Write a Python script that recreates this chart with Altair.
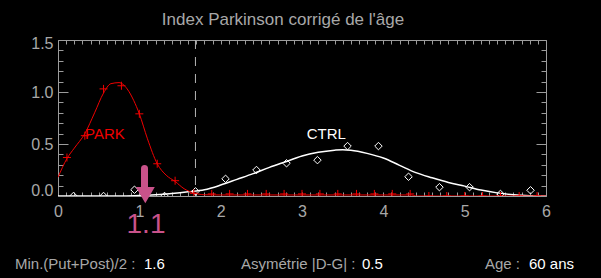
import altair as alt
import pandas as pd

# ---------------- data ----------------
TITLE = "Index Parkinson corrigé de l'âge"
X_LABEL_TICKS = [0, 1, 2, 3, 4, 5, 6]
Y_LABEL_TICKS = [0.0, 0.5, 1.0, 1.5]
X_MINOR_TICKS = [0.0, 0.1, 0.2, 0.3, 0.4, 0.5, 0.6, 0.7, 0.8, 0.9,
                 1.0, 1.1, 1.2, 1.3, 1.4, 1.5, 1.6, 1.7, 1.8, 1.9,
                 2.0, 2.1, 2.2, 2.3, 2.4, 2.5, 2.6, 2.7, 2.8, 2.9,
                 3.0, 3.1, 3.2, 3.3, 3.4, 3.5, 3.6, 3.7, 3.8, 3.9,
                 4.0, 4.1, 4.2, 4.3, 4.4, 4.5, 4.6, 4.7, 4.8, 4.9,
                 5.0, 5.1, 5.2, 5.3, 5.4, 5.5, 5.6, 5.7, 5.8, 5.9, 6.0]
Y_MINOR_TICKS = [0.0, 0.1, 0.2, 0.3, 0.4, 0.5, 0.6, 0.7, 0.8, 0.9,
                 1.0, 1.1, 1.2, 1.3, 1.4, 1.5]

PARK_X = [0.11, 0.33, 0.56, 0.78, 1.0, 1.22, 1.44, 1.67, 1.89, 2.11,
          2.33, 2.56, 2.78, 3.0, 3.22, 3.44, 3.67, 3.89, 4.11, 4.33,
          4.56, 4.78, 5.0, 5.22, 5.44, 5.67, 5.89]
PARK_Y = [0.37, 0.58, 1.03, 1.06, 0.79, 0.31, 0.147, 0.026, 0.02, 0.02,
          0.02, 0.02, 0.02, 0.02, 0.02, 0.02, 0.02, 0.02, 0.02, 0.02,
          0.0, 0.0, 0.0, 0.0, 0.0, 0.0, 0.0]

PARK_FIT_X = [0.0, 0.11, 0.2, 0.33, 0.45, 0.56, 0.65, 0.75, 0.85, 0.93,
              1.0, 1.1, 1.22, 1.33, 1.44, 1.55, 1.67, 1.8, 2.0, 4.35, 4.4, 6.0]
PARK_FIT_Y = [0.18, 0.36, 0.46, 0.6, 0.8, 0.99, 1.08, 1.09, 1.03, 0.92,
              0.79, 0.55, 0.31, 0.2, 0.14, 0.07, 0.03, 0.012, 0.01, 0.01, 0.0, 0.0]

CTRL_X = [0.19, 0.56, 0.94, 1.31, 1.69, 2.06, 2.44, 2.81, 3.19, 3.56,
          3.94, 4.31, 4.69, 5.06, 5.44, 5.81]
CTRL_Y = [0.0, 0.0, 0.06, 0.0, 0.045, 0.165, 0.25, 0.315, 0.345, 0.48,
          0.48, 0.185, 0.085, 0.085, 0.02, 0.055]

CTRL_FIT_X = [0.0, 0.8, 1.0, 1.2, 1.4, 1.6, 1.8, 2.0, 2.2, 2.4, 2.6, 2.8,
              3.0, 3.2, 3.4, 3.5, 3.6, 3.8, 4.0, 4.2, 4.4, 4.6, 4.8, 5.0,
              5.2, 5.4, 5.6, 5.8, 6.0]
CTRL_FIT_Y = [0.0, 0.0, 0.004, 0.012, 0.024, 0.04, 0.06, 0.105, 0.16, 0.215,
              0.275, 0.33, 0.385, 0.42, 0.44, 0.445, 0.44, 0.41, 0.365, 0.295,
              0.225, 0.175, 0.13, 0.095, 0.058, 0.03, 0.012, 0.003, 0.0]

THRESHOLD = 1.69
MARKER_LABEL = "1.1"
GROUP_LABELS = ["PARK", "CTRL"]
FOOTER_KEYS = ["Min.(Put+Post)/2 : ", "Asymétrie |D-G| : ", "Age : "]
FOOTER_VALUES = ["1.6", "0.5", "60 ans"]

# ---------------- styles ----------------
FONT = "Liberation Sans"
GREY = "#a8a8a8"
FRAME = "#9c9c9c"
RED = "#f00000"
PINK = "#c9528a"
W, H = 488, 156
PLUS = "M-1,0L1,0M0,-1L0,1"
HEAD = "M-1,-0.8L1,-0.8L0,0.9Z"

x_scale = alt.Scale(domain=[0, 6], nice=False, zero=False)
y_scale = alt.Scale(domain=[0, 1.5], nice=False, zero=False)

major_test = "abs(datum.value*2 - round(datum.value*2)) < 0.001"
y_tick_size = {"condition": {"test": major_test, "value": 10}, "value": 5}

def tick_axis(orient, offset, values, size):
    return alt.Axis(orient=orient, offset=offset, values=values, tickSize=size,
                    labels=False, domain=False, grid=False, title=None,
                    tickColor=FRAME, tickWidth=1)

park_fit_df = pd.DataFrame({"x": PARK_FIT_X, "y": PARK_FIT_Y})
ctrl_fit_df = pd.DataFrame({"x": CTRL_FIT_X, "y": CTRL_FIT_Y})
park_df = pd.DataFrame({"x": PARK_X, "y": PARK_Y})
ctrl_df = pd.DataFrame({"x": CTRL_X, "y": CTRL_Y})

ctrl_fit = alt.Chart(ctrl_fit_df).mark_line(
    color="white", strokeWidth=1.5, interpolate="monotone", clip=True
).encode(
    x=alt.X("x:Q", scale=x_scale, axis=alt.Axis(
        orient="bottom", values=X_LABEL_TICKS, ticks=False, domain=False, grid=False,
        title=None, labelPadding=7, labelFontSize=16, labelColor=GREY, labelFont=FONT,
        labelFlush=False, format="d")),
    y=alt.Y("y:Q", scale=y_scale, axis=alt.Axis(
        orient="left", values=Y_LABEL_TICKS, ticks=False, domain=False, grid=False,
        title=None, labelPadding=5, labelFontSize=16, labelColor=GREY, labelFont=FONT,
        labelFlush=False, format=".1f", labelBaseline="middle",
        labelOffset={"condition": [{"test": "datum.value == 0", "value": -6},
                                   {"test": "datum.value == 1.5", "value": 3}],
                     "value": 0})),
)

park_fit = alt.Chart(park_fit_df).mark_line(
    color=RED, strokeWidth=1, interpolate="monotone", clip=True
).encode(
    x=alt.X("x:Q", scale=x_scale, axis=tick_axis("top", -H, X_MINOR_TICKS, 4)),
    y=alt.Y("y:Q", scale=y_scale, axis=tick_axis("right", -W, Y_MINOR_TICKS, y_tick_size)),
)

ctrl_pts = alt.Chart(ctrl_df).mark_point(
    shape="diamond", filled=False, color="white", size=56, strokeWidth=1,
    opacity=1, clip=True
).encode(
    x=alt.X("x:Q", scale=x_scale, axis=None),
    y=alt.Y("y:Q", scale=y_scale, axis=None),
)

park_pts = alt.Chart(park_df).mark_point(
    shape=PLUS, filled=False, color=RED, size=64, strokeWidth=1,
    opacity=1, clip=True
).encode(
    x=alt.X("x:Q", scale=x_scale, axis=tick_axis("bottom", -H, X_MINOR_TICKS, 4)),
    y=alt.Y("y:Q", scale=y_scale, axis=tick_axis("left", -W, Y_MINOR_TICKS, y_tick_size)),
)

threshold = alt.Chart(pd.DataFrame({"x": [THRESHOLD]})).mark_rule(
    color="#b4b4b4", strokeWidth=1, strokeDash=[9, 8]
).encode(x=alt.X("x:Q", scale=x_scale, axis=None))

one = pd.DataFrame({"t": [MARKER_LABEL]})

shaft = alt.Chart(one).mark_rule(color=PINK, strokeWidth=7, strokeCap="round").encode(
    x=alt.value(86.5), y=alt.value(128.5), y2=alt.value(150))
head = alt.Chart(one).mark_point(shape=HEAD, filled=True, color=PINK, size=361,
                                 opacity=1, strokeWidth=0).encode(
    x=alt.value(87.3), y=alt.value(154.6))
marker_text = alt.Chart(one).mark_text(
    color=PINK, fontSize=28, font=FONT, align="center", baseline="alphabetic"
).encode(x=alt.value(88), y=alt.value(192.7), text="t:N")

park_lbl = alt.Chart(pd.DataFrame({"t": [GROUP_LABELS[0]]})).mark_text(
    color=RED, fontSize=15, font=FONT, align="left", baseline="alphabetic"
).encode(x=alt.value(27), y=alt.value(99.3), text="t:N")
ctrl_lbl = alt.Chart(pd.DataFrame({"t": [GROUP_LABELS[1]]})).mark_text(
    color="white", fontSize=15, font=FONT, align="left", baseline="alphabetic"
).encode(x=alt.value(248.7), y=alt.value(99.3), text="t:N")

title = alt.Chart(pd.DataFrame({"t": [TITLE]})).mark_text(
    color=GREY, fontSize=17, font=FONT, align="center", baseline="alphabetic"
).encode(x=alt.value(225), y=alt.value(-15), text="t:N")

key_x = [-43, 183, 427]
val_x = [86, 304, 471]
footer = []
for k, v, kx, vx in zip(FOOTER_KEYS, FOOTER_VALUES, key_x, val_x):
    footer.append(alt.Chart(pd.DataFrame({"t": [k]})).mark_text(
        color=GREY, fontSize=15, font=FONT, align="left", baseline="alphabetic"
    ).encode(x=alt.value(kx), y=alt.value(229), text="t:N"))
    footer.append(alt.Chart(pd.DataFrame({"t": [v]})).mark_text(
        color="white", fontSize=15, font=FONT, align="left", baseline="alphabetic"
    ).encode(x=alt.value(vx), y=alt.value(229), text="t:N"))

chart = alt.layer(
    threshold, ctrl_fit, park_fit, ctrl_pts, park_pts,
    park_lbl, ctrl_lbl, shaft, head, marker_text, title, *footer
).resolve_axis(
    x="independent", y="independent"
).properties(
    width=W, height=H,
    autosize=alt.AutoSizeParams(type="none"),
    padding={"left": 58, "top": 40, "right": 55, "bottom": 82},
    background="black",
).configure_view(
    stroke=FRAME, strokeWidth=1, fill="black"
)

chart.save("out.html", embed_options={"renderer": "svg", "actions": False})
